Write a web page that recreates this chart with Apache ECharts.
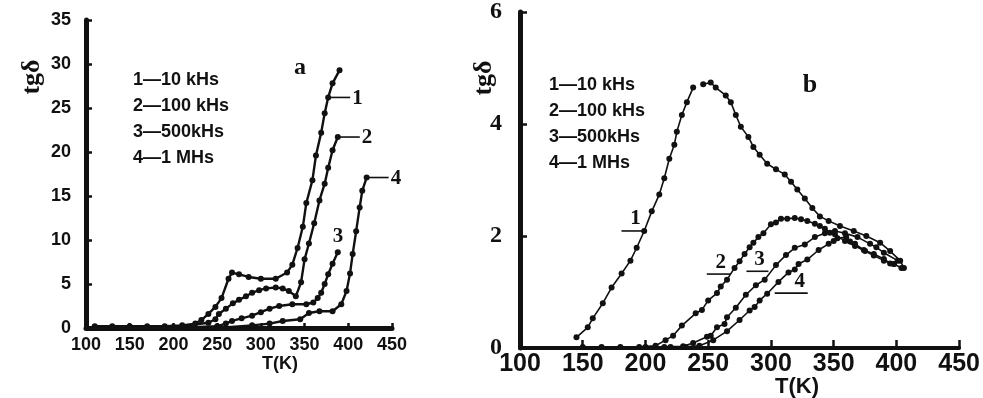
<!DOCTYPE html>
<html>
<head>
<meta charset="utf-8">
<script src="https://cdn.jsdelivr.net/npm/echarts@6/dist/echarts.min.js"></script>
<style>
  html, body { margin: 0; padding: 0; background: #ffffff; }
  #chart { width: 983px; height: 398px; }
</style>
</head>
<body>
<div id="chart"></div>
<script>
// Frequency legend entries (same for both panels)
const freqLabels = ['1\u201410 kHs', '2\u2014100 kHs', '3\u2014500kHs', '4\u20141 MHs'];
const curveNames = ['1', '2', '3', '4'];

// Axis ranges / ticks
const tempMin = 100, tempMax = 450, tempStep = 50;
const lossMaxA = 35, lossStepA = 5;
const lossMaxB = 6, lossStepB = 2;

// Panel a: temperature (K) and tg delta
const a1T = [110, 130, 150, 170, 190, 210, 225, 232, 240, 248, 255, 263, 267, 275, 286, 300, 317, 330, 336, 342, 348, 352, 359, 363, 369, 373, 377, 382, 390];
const a1V = [0.2, 0.2, 0.2, 0.2, 0.2, 0.3, 0.5, 0.9, 1.6, 2.4, 3.4, 5.6, 6.3, 6.1, 5.8, 5.6, 5.6, 6.3, 7.2, 9.1, 11.5, 14.2, 16.8, 19.6, 22.2, 24.4, 26.2, 27.8, 29.3];

const a2T = [110, 150, 200, 240, 248, 252, 260, 268, 275, 283, 290, 298, 306, 317, 325, 332, 340, 346, 350, 355, 361, 367, 373, 377, 382, 388];
const a2V = [0.1, 0.1, 0.1, 0.6, 1.0, 1.6, 2.2, 2.8, 3.2, 3.6, 4.0, 4.3, 4.5, 4.6, 4.5, 4.2, 3.6, 5.2, 7.8, 9.6, 11.9, 14.5, 16.4, 18.2, 20.2, 21.7];

const a3T = [110, 150, 200, 250, 260, 267, 278, 290, 300, 310, 321, 336, 352, 360, 365, 369, 373, 377, 382, 388];
const a3V = [0, 0, 0, 0.2, 0.5, 0.8, 1.1, 1.4, 1.8, 2.2, 2.5, 2.7, 2.7, 2.9, 3.4, 4.0, 5.0, 6.1, 7.3, 8.6];

const a4T = [110, 150, 200, 250, 290, 310, 325, 345, 355, 367, 382, 392, 398, 402, 405, 409, 413, 416, 421];
const a4V = [0, 0, 0, 0, 0.3, 0.5, 0.8, 1.0, 1.7, 1.9, 1.9, 2.7, 4.2, 6.2, 8.4, 11.0, 13.7, 15.6, 17.1];

// Panel b: temperature (K) and tg delta (null = gap in the trace)
const b1T = [145, 154, 158, 166, 173, 181, 188, 193, 199, 205, 211, 215, 219, 223, 225, 229, 233, 238, 242, 246, 252, 256, 264, 268, 272, 276, 282, 286, 291, 297, 304, 311, 316, 321, 327, 333, 339, 346, 355, 366, 376, 387, 395, 403, 406];
const b1V = [0.19, 0.37, 0.53, 0.80, 1.08, 1.33, 1.56, 1.79, 2.09, 2.44, 2.74, 3.03, 3.38, 3.63, 3.86, 4.16, 4.39, 4.65, null, 4.71, 4.74, 4.65, 4.51, 4.39, 4.16, 3.95, 3.77, 3.59, 3.45, 3.29, 3.19, 3.10, 2.97, 2.83, 2.67, 2.50, 2.35, 2.27, 2.18, 2.09, 2.00, 1.88, 1.73, 1.56, 1.43];

const b2T = [150, 165, 180, 195, 208, 216, 222, 229, 240, 245, 250, 257, 260, 265, 271, 275, 279, 283, 286, 290, 294, 300, 304, 308, 313, 319, 324, 329, 335, 339, 343, 347, 351, 359, 367, 375, 382, 390, 398, 404];
const b2V = [0.02, 0.02, 0.02, 0.02, 0.04, 0.14, 0.22, 0.40, 0.62, 0.68, 0.85, 0.98, 1.10, 1.22, 1.43, 1.55, 1.68, 1.80, 1.88, 1.98, 2.05, 2.21, 2.24, 2.31, 2.31, 2.32, 2.30, 2.27, 2.22, 2.18, 2.13, 2.06, 2.03, 1.91, 1.82, 1.73, 1.65, 1.56, 1.50, 1.43];

const b3T = [200, 215, 230, 238, 249, 252, 257, 263, 265, 272, 280, 288, 295, 304, 312, 319, 327, 335, 343, 351, 359, 369, 379, 384, 390, 401];
const b3V = [0.02, 0.02, 0.03, 0.09, 0.20, 0.22, 0.37, 0.43, 0.55, 0.72, 0.95, 1.12, 1.22, 1.48, 1.66, 1.79, 1.85, 1.98, 2.05, 2.09, 2.05, 1.98, 1.86, 1.80, 1.70, 1.56];

const b4T = [220, 232, 243, 254, 265, 275, 283, 287, 291, 297, 306, 314, 319, 322, 329, 338, 346, 350, 353, 360, 363, 367, 374, 382, 390, 395, 398];
const b4V = [0.02, 0.02, 0.04, 0.14, 0.30, 0.50, 0.67, 0.73, 0.85, 0.97, 1.18, 1.35, 1.40, 1.50, 1.58, 1.75, 1.86, 1.91, 1.96, 1.98, 1.90, 1.86, 1.75, 1.68, 1.59, 1.51, 1.50];

const INK = '#111';
const SANS = "'Liberation Sans', Arial, sans-serif";
const SERIF = "'Liberation Serif', 'DejaVu Serif', serif";

function pairs(ts, vs) {
  return ts.map((t, i) => [t, vs[i] === null ? '-' : vs[i]]);
}

function curve(name, ts, vs, idx, size, width) {
  return {
    type: 'line',
    name: name,
    xAxisIndex: idx,
    yAxisIndex: idx,
    data: pairs(ts, vs),
    connectNulls: false,
    symbol: 'circle',
    symbolSize: size,
    showSymbol: true,
    animation: false,
    lineStyle: { color: INK, width: width },
    itemStyle: { color: INK },
    emphasis: { disabled: true }
  };
}

function xAxisCfg(idx, fontSize, margin, lineW, tickLen) {
  return {
    type: 'value', gridIndex: idx,
    min: tempMin, max: tempMax, interval: tempStep,
    axisLine: { show: true, onZero: false, lineStyle: { color: INK, width: lineW } },
    axisTick: { show: true, inside: true, length: tickLen, lineStyle: { color: INK, width: 2.5 } },
    axisLabel: { color: INK, fontFamily: SANS, fontWeight: 'bold', fontSize: fontSize, margin: margin },
    splitLine: { show: false }
  };
}

function yAxisCfg(idx, max, step, fontSize, family, margin, lineW, tickLen) {
  return {
    type: 'value', gridIndex: idx,
    min: 0, max: max, interval: step,
    axisLine: { show: true, lineStyle: { color: INK, width: lineW } },
    axisTick: { show: true, inside: true, length: tickLen, lineStyle: { color: INK, width: 2.5 } },
    axisLabel: { color: INK, fontFamily: family, fontWeight: 'bold', fontSize: fontSize, margin: margin },
    splitLine: { show: false }
  };
}

const chart = echarts.init(document.getElementById('chart'), null, { renderer: 'canvas' });

chart.setOption({
  backgroundColor: '#ffffff',
  animation: false,
  grid: [
    { left: 86, right: 591, top: 20, bottom: 70 },
    { left: 520, right: 20, top: 9, bottom: 50 }
  ],
  xAxis: [
    xAxisCfg(0, 18, 8, 5, 5),
    xAxisCfg(1, 25, 4, 4, 8)
  ],
  yAxis: [
    yAxisCfg(0, lossMaxA, lossStepA, 18, SANS, 15, 5, 6),
    yAxisCfg(1, lossMaxB, lossStepB, 24, SERIF, 18, 5, 7)
  ],
  series: [
    curve(curveNames[0], a1T, a1V, 0, 6, 2.4),
    curve(curveNames[1], a2T, a2V, 0, 6, 2.4),
    curve(curveNames[2], a3T, a3V, 0, 6, 2.4),
    curve(curveNames[3], a4T, a4V, 0, 6, 2.4),
    curve(curveNames[0], b1T, b1V, 1, 6, 1.6),
    curve(curveNames[1], b2T, b2V, 1, 6, 1.6),
    curve(curveNames[2], b3T, b3V, 1, 6, 1.6),
    curve(curveNames[3], b4T, b4V, 1, 6, 1.6)
  ]
});

// Text blocks: legends, panel letters, axis titles
const graphics = [];
function text(x, y, str, font, opts) {
  graphics.push(Object.assign({
    type: 'text', x: x, y: y, silent: true,
    style: Object.assign({ text: str, font: font, fill: INK, textAlign: 'left', textVerticalAlign: 'middle' }, (opts && opts.style) || {})
  }, (opts && opts.extra) || {}));
}

const legendA = { x: 133, y0: 80, dy: 26 };
const legendB = { x: 549, y0: 85, dy: 26 };
freqLabels.forEach((s, i) => {
  text(legendA.x, legendA.y0 + i * legendA.dy, s, 'bold 18px ' + SANS);
  text(legendB.x, legendB.y0 + i * legendB.dy, s, 'bold 18px ' + SANS);
});

text(300, 68, 'a', 'bold 24px ' + SERIF, { style: { textAlign: 'center' } });
text(810, 85, 'b', 'bold 26px ' + SERIF, { style: { textAlign: 'center' } });

text(280, 364, 'T(K)', 'bold 18px ' + SANS, { style: { textAlign: 'center' } });
text(797, 387, 'T(K)', 'bold 22px ' + SANS, { style: { textAlign: 'center' } });

text(32, 77, 'tg\u03b4', 'bold 26px ' + SERIF, { style: { textAlign: 'center' }, extra: { rotation: Math.PI / 2 } });
text(484, 78, 'tg\u03b4', 'bold 26px ' + SERIF, { style: { textAlign: 'center' }, extra: { rotation: Math.PI / 2 } });

// Curve number tags, anchored to points on the curves
function px(grid, t, v) { return chart.convertToPixel({ gridIndex: grid }, [t, v]); }
function seg(x1, y1, x2, y2) {
  graphics.push({ type: 'line', silent: true, shape: { x1: x1, y1: y1, x2: x2, y2: y2 }, style: { stroke: INK, lineWidth: 1.6 } });
}
const tagFont = 'bold 21px ' + SERIF;

// panel a: leader line to the right of a curve point, number after it
[[0, 377, 26.2], [1, 388, 21.7], [3, 421, 17.1]].forEach(([k, t, v]) => {
  const p = px(0, t, v);
  seg(p[0], p[1], p[0] + 22, p[1]);
  text(p[0] + 24, p[1] + 1, curveNames[k], tagFont);
});
(function () {
  const p = px(0, 387, 8.6);
  text(p[0] + 1, p[1] - 16, curveNames[2], tagFont, { style: { textAlign: 'center' } });
})();

// panel b: underlined numbers touching the curves
[[0, 200, 2.09, -24], [1, 268, 1.32, -24], [2, 298, 1.37, -22]].forEach(([k, t, v, dx]) => {
  const p = px(1, t, v);
  seg(p[0] + dx, p[1], p[0], p[1]);
  text(p[0] + dx / 2 + 2, p[1] - 12, curveNames[k], tagFont, { style: { textAlign: 'center' } });
});
(function () {
  const p = px(1, 303, 0.98);
  seg(p[0], p[1], p[0] + 33, p[1]);
  text(p[0] + 25, p[1] - 12, curveNames[3], tagFont, { style: { textAlign: 'center' } });
})();

chart.setOption({ graphic: graphics });
</script>
</body>
</html>
